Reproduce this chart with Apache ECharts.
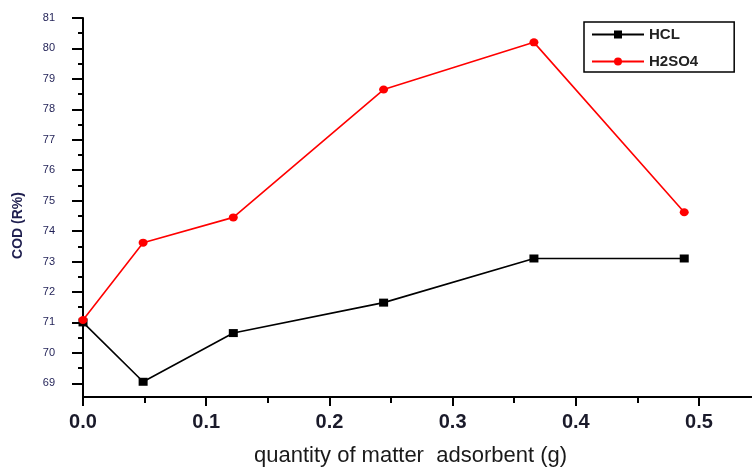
<!DOCTYPE html>
<html>
<head>
<meta charset="utf-8">
<script src="https://cdn.jsdelivr.net/npm/echarts@6/dist/echarts.min.js"></script>
<style>html,body{margin:0;padding:0;background:#fff}#c{width:752px;height:472px}</style>
</head>
<body>
<div id="c"></div>
<script>
// Data
const xValues = [0, 0.0488, 0.122, 0.244, 0.366, 0.488];
const hclValues = [71.0, 69.05, 70.65, 71.65, 73.1, 73.1];
const h2so4Values = [71.08, 73.62, 74.45, 78.65, 80.2, 74.62];
const xTickLabels = [0, 0.1, 0.2, 0.3, 0.4, 0.5];
const xMinorTicks = [0.05, 0.15, 0.25, 0.35, 0.45];
const yTickLabels = [69, 70, 71, 72, 73, 74, 75, 76, 77, 78, 79, 80, 81];
const yMinorTicks = [69.5, 70.5, 71.5, 72.5, 73.5, 74.5, 75.5, 76.5, 77.5, 78.5, 79.5, 80.5];
const seriesNames = ['HCL', 'H2SO4'];
const xName = 'quantity of matter  adsorbent (g)';
const yName = 'COD (R%)';

const X_MIN = 0, X_MAX = 0.543, Y_MIN = 68.55, Y_MAX = 81;

const chart = echarts.init(document.getElementById('c'), null, {renderer: 'canvas'});
const pair = (xs, ys) => xs.map((x, i) => [x, ys[i]]);

chart.setOption({
  animation: false,
  backgroundColor: '#ffffff',
  grid: {left: 83, top: 18, right: 0, bottom: 74},
  legend: {
    orient: 'vertical',
    left: 584,
    top: 22,
    padding: [5, 36, 3, 7],
    itemGap: 12,
    itemWidth: 52,
    itemHeight: 10,
    borderColor: '#000',
    borderWidth: 1.5,
    data: seriesNames,
    textStyle: {fontFamily: 'Liberation Sans, Arial', fontSize: 15, fontWeight: 'bold', color: '#222', lineHeight: 14}
  },
  xAxis: [{
    type: 'value', min: X_MIN, max: X_MAX,
    name: xName, nameLocation: 'middle', nameGap: 48,
    nameTextStyle: {fontFamily: 'Liberation Sans, Arial', fontSize: 22, color: '#1a1a1a', padding: [0, 14, 0, 0]},
    axisLine: {show: true, lineStyle: {color: '#000', width: 2}},
    axisTick: {show: true, customValues: xTickLabels, length: 9, lineStyle: {color: '#000', width: 2}},
    axisLabel: {customValues: xTickLabels, margin: 15, fontFamily: 'Liberation Sans, Arial', fontSize: 20, fontWeight: 'bold', color: '#1a1a2a',
      formatter: v => v.toFixed(1)},
    splitLine: {show: false}
  }, {
    type: 'value', min: X_MIN, max: X_MAX, position: 'bottom',
    axisLine: {show: false},
    axisTick: {show: true, customValues: xMinorTicks, length: 6, lineStyle: {color: '#000', width: 2}},
    axisLabel: {show: false},
    splitLine: {show: false}
  }],
  yAxis: [{
    type: 'value', min: Y_MIN, max: Y_MAX,
    name: yName, nameLocation: 'middle', nameRotate: 90, nameGap: 58,
    nameTextStyle: {fontFamily: 'Liberation Sans, Arial', fontSize: 14, fontWeight: 'bold', color: '#1f1f4f', padding: [0, 36, 0, 0]},
    axisLine: {show: true, lineStyle: {color: '#000', width: 2}},
    axisTick: {show: true, customValues: yTickLabels, length: 11, lineStyle: {color: '#000', width: 2}},
    axisLabel: {customValues: yTickLabels, margin: 28, fontFamily: 'Liberation Sans, Arial', fontSize: 11, color: '#1f1f55'},
    splitLine: {show: false}
  }, {
    type: 'value', min: Y_MIN, max: Y_MAX, position: 'left',
    axisLine: {show: false},
    axisTick: {show: true, customValues: yMinorTicks, length: 5, lineStyle: {color: '#000', width: 2}},
    axisLabel: {show: false},
    splitLine: {show: false}
  }],
  series: [{
    name: seriesNames[0], type: 'line', xAxisIndex: 0, yAxisIndex: 0,
    data: pair(xValues, hclValues),
    symbol: 'rect', symbolSize: [9, 8], showAllSymbol: true,
    lineStyle: {color: '#000', width: 1.6},
    itemStyle: {color: '#000'}
  }, {
    name: seriesNames[1], type: 'line', xAxisIndex: 0, yAxisIndex: 0,
    data: pair(xValues, h2so4Values),
    symbol: 'circle', symbolSize: [9, 8], showAllSymbol: true,
    lineStyle: {color: '#ff0000', width: 1.6},
    itemStyle: {color: '#ff0000'}
  }]
});
</script>
</body>
</html>
